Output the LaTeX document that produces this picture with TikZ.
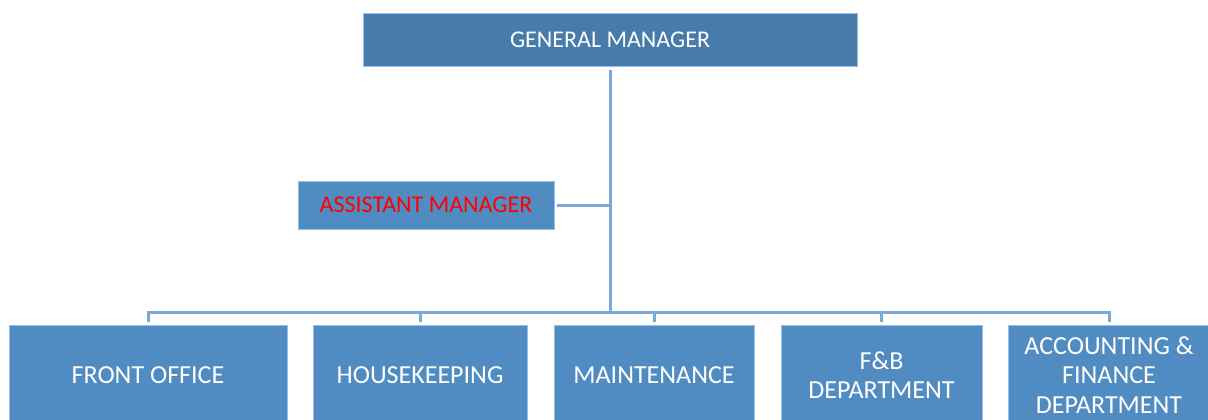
\documentclass[tikz,border=0pt]{standalone}
\usepackage{fontspec}
\setmainfont{Carlito}
\definecolor{gmfill}{HTML}{477BAA}
\definecolor{boxfill}{HTML}{508CC1}
\definecolor{boxline}{HTML}{9ABDE3}
\definecolor{linkblue}{HTML}{7BA7DA}
\definecolor{amred}{HTML}{FF0000}
\begin{document}
\begin{tikzpicture}[x=1pt,y=-1pt,
  box/.style={draw=boxline, line width=0.8pt, fill=boxfill, text=white,
    inner sep=0pt, align=center, font=\fontsize{26}{29.5}\selectfont},
  dept/.style={box, minimum height=100pt},
  link/.style={draw=linkblue, line width=3pt, line join=miter}]
\useasboundingbox (0,0) rectangle (1208,420);
\clip (0,0) rectangle (1208,420);
\fill[white] (0,0) rectangle (1208,420);

% management
\node[box, fill=gmfill, minimum width=494pt, minimum height=53pt,
  font=\fontsize{24}{29}\selectfont] (gm) at (610,39.5) {GENERAL MANAGER};
\node[box, minimum width=256pt, minimum height=48pt, text=amred,
  font=\fontsize{24}{29}\selectfont] (am) at (426,205) {ASSISTANT MANAGER};

% departments
\node[dept, minimum width=278pt] (fo)  at (148,375)   {FRONT OFFICE};
\node[dept, minimum width=214pt] (hk)  at (420,375)   {HOUSEKEEPING};
\node[dept, minimum width=200pt] (mt)  at (654,375)   {MAINTENANCE};
\node[dept, minimum width=201pt] (fb)  at (881.5,375) {F\&B\\DEPARTMENT};
\node[dept, minimum width=202pt] (acc) at (1109,375)  {ACCOUNTING \&\\FINANCE\\DEPARTMENT};

\coordinate (bar) at (610,312);

% connectors
\draw[link, shorten <=4pt] (gm.south) -- (bar);
\draw[link, shorten <=3pt] (am.east) -- (am.east -| bar);
\draw[link, shorten <=3pt, shorten >=3pt] (fo.north) |- (bar) -| (acc.north);
\draw[link, shorten >=3pt] (hk.north |- bar) -- (hk.north);
\draw[link, shorten >=3pt] (mt.north |- bar) -- (mt.north);
\draw[link, shorten >=3pt] (fb.north |- bar) -- (fb.north);
\end{tikzpicture}
\end{document}
